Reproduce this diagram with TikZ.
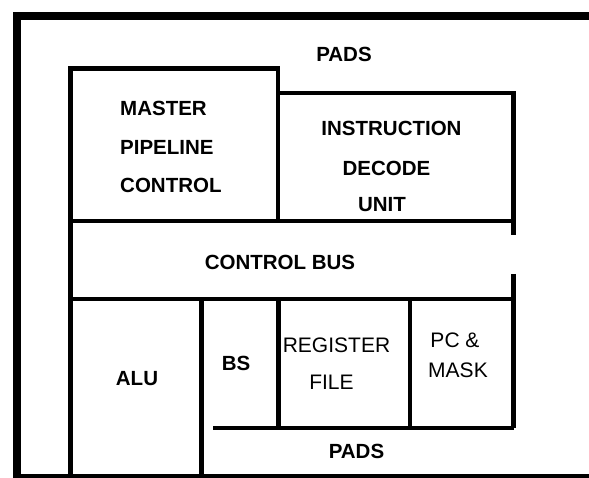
\documentclass[tikz,border=0pt]{standalone}
\usepackage{fontspec}
\setmainfont{Liberation Sans}
\begin{document}
\begin{tikzpicture}[x=1pt,y=-1pt,
  frameline/.style={line width=8pt},
  wall/.style={line width=4.5pt},
  lab/.style={font=\fontsize{20.5}{24}\selectfont\bfseries, inner sep=0pt, anchor=center},
  labr/.style={font=\fontsize{21}{24}\selectfont, inner sep=0pt, anchor=center}]
\useasboundingbox (0,0) rectangle (589,478);
\clip (0,0) rectangle (589,478);
% outer frame
\draw[frameline] (595,16) -- (17,16) -- (17,482);
\draw[line width=6pt] (17,477) -- (595,477);
% master pipeline control
\draw[wall] (70.5,482) -- (70.5,68.5) -- (278,68.5) -- (278,221);
% instruction decode unit
\draw[wall] (278,93) -- (513.5,93) -- (513.5,235);
\draw[wall] (70.5,221) -- (513.5,221);
% control bus right edge (broken)
\draw[wall] (513.5,274) -- (513.5,428);
% bottom row
\draw[wall] (70.5,299) -- (513.5,299);
\draw[wall] (201.5,299) -- (201.5,482);
\draw[wall] (278.5,299) -- (278.5,428);
\draw[wall] (410,299) -- (410,428);
\draw[wall] (213,428) -- (513.5,428);
% labels
\node[lab] (padstop) at (344,54) {PADS};
\node[lab, anchor=west] (master) at (120,108) {MASTER};
\node[lab, anchor=west] (pipeline) at (120,147) {PIPELINE};
\node[lab, anchor=west] (control) at (120,185) {CONTROL};
\node[lab] (instr) at (391.5,128) {INSTRUCTION};
\node[lab] (decode) at (386.5,168) {DECODE};
\node[lab] (unit) at (382,205) {UNIT};
\node[lab] (cbus) at (280,262) {CONTROL BUS};
\node[lab] (alu) at (137,379) {ALU};
\node[lab] (bs) at (236,363) {BS};
\node[labr] (reg) at (336.5,345) {REGISTER};
\node[labr] (file) at (331.5,382) {FILE};
\node[labr] (pc) at (455,340) {PC \&};
\node[labr] (mask) at (458,370) {MASK};
\node[lab] (padsbot) at (356.5,451) {PADS};
\end{tikzpicture}
\end{document}
